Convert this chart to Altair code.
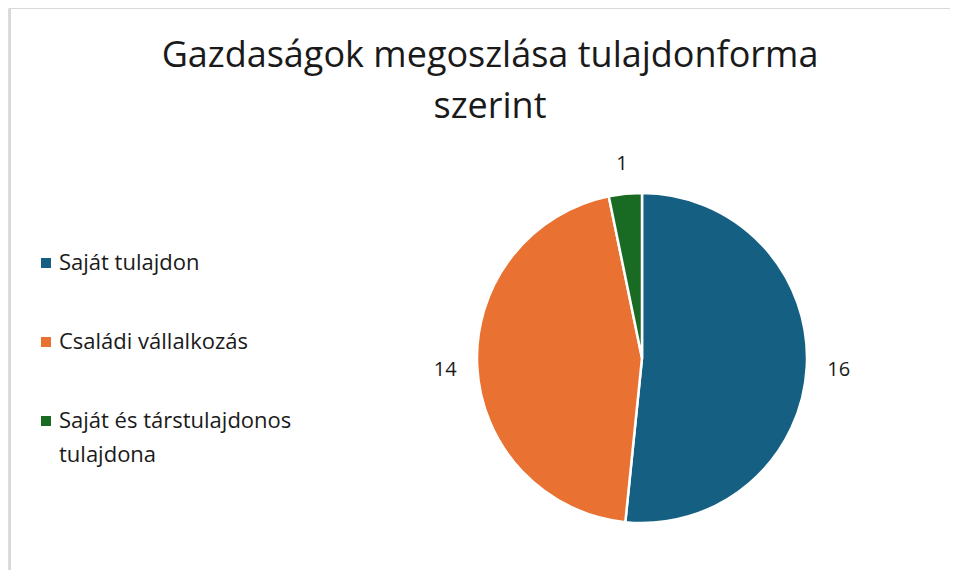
import altair as alt
import pandas as pd

categories = ["Saját tulajdon", "Családi vállalkozás", "Saját és társtulajdonos tulajdona"]
legend_lines = [["Saját tulajdon"], ["Családi vállalkozás"], ["Saját és társtulajdonos", "tulajdona"]]
values = [16, 14, 1]
colors = ["#156082", "#E97132", "#196B24"]

df = pd.DataFrame({"cat": categories, "val": values, "order": list(range(len(categories)))})
leg = pd.DataFrame({"cat": categories, "lines": legend_lines})

W, H = 942, 562
FONT = "Open Sans"
TXT = "#1a1a1a"

color_scale = alt.Scale(domain=categories, range=colors)

base = alt.Chart(df).encode(
    theta=alt.Theta("val:Q", stack=True),
    order=alt.Order("order:Q"),
)

pie = base.mark_arc(radius=165, stroke="white", strokeWidth=2.5).encode(
    x=alt.value(634),
    y=alt.value(350),
    color=alt.Color("cat:N", scale=color_scale, legend=None),
)

labels = base.mark_text(radius=197, fontSize=20, font=FONT, color=TXT).encode(
    x=alt.value(634),
    y=alt.value(352),
    text=alt.Text("val:Q"),
)

ly = alt.Y("cat:N", sort=categories, axis=None,
           scale=alt.Scale(type="point", range=[255, 413], padding=0))

leg_sym = alt.Chart(leg).mark_square(size=100, opacity=1).encode(
    x=alt.value(38),
    y=ly,
    color=alt.Color("cat:N", scale=color_scale, legend=None),
)
leg_txt = alt.Chart(leg).mark_text(
    align="left", baseline="alphabetic", dy=7, fontSize=22, font=FONT,
    color=TXT, lineHeight=34,
).encode(
    x=alt.value(51),
    y=ly,
    text=alt.Text("lines"),
)

border_top = alt.Chart(df).mark_rule(color="#d9d9d9", strokeWidth=2).encode(
    x=alt.value(1), x2=alt.value(W), y=alt.value(0)
)
border_left = alt.Chart(df).mark_rule(color="#d9d9d9", strokeWidth=2).encode(
    x=alt.value(2), y=alt.value(0), y2=alt.value(H)
)

chart = alt.layer(border_top, border_left, pie, labels, leg_sym, leg_txt).properties(
    width=W,
    height=H,
    padding=0,
    autosize=alt.AutoSizeParams(type="none"),
    title=alt.Title(
        ["Gazdaságok megoszlása tulajdonforma", "szerint"],
        fontSize=36,
        font=FONT,
        fontWeight="normal",
        color=TXT,
        anchor="middle",
        baseline="alphabetic",
        lineHeight=51,
        dy=151,
        dx=11,
    ),
).configure_view(stroke=None).configure(background="white")

chart.save("out.html", embed_options={"renderer": "svg", "actions": False})
